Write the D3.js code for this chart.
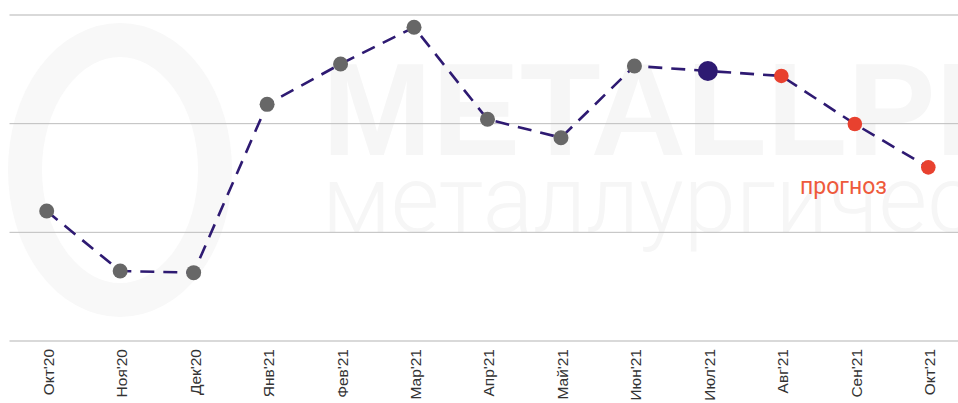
<!DOCTYPE html>
<html><head><meta charset="utf-8">
<script src="https://cdn.jsdelivr.net/npm/d3@7"></script>
<style>
html,body{margin:0;padding:0;background:#fff;}
svg{display:block;}
</style></head>
<body>
<svg id="chart" width="958" height="403"></svg>
<script>
const categories = ["Окт'20","Ноя'20","Дек'20","Янв'21","Фев'21","Мар'21","Апр'21","Май'21","Июн'21","Июл'21","Авг'21","Сен'21","Окт'21"];
const values = [119.6, 64.4, 62.9, 217.8, 254.9, 288.7, 204.0, 187.1, 253.1, 248.5, 243.9, 199.7, 159.8];
const pointKind = ["fact","fact","fact","fact","fact","fact","fact","fact","fact","current","forecast","forecast","forecast"];
const gridTicks = [0, 100, 200, 300];
const forecastLabel = "прогноз";
const watermark1 = "METALLPLAN";
const watermark2 = "металлургический";

const svg = d3.select("#chart");
const W = 958, H = 403;
const x = d3.scalePoint().domain(categories).range([46.7, 928.3]);
const y = d3.scaleLinear().domain([0, 300]).range([341, 15]);

// watermark (very faint), clipped to the picture
svg.append("defs").append("clipPath").attr("id","clipAll")
  .append("rect").attr("x",0).attr("y",0).attr("width",W).attr("height",H);
const wm = svg.append("g").attr("class","watermark").attr("clip-path","url(#clipAll)");
wm.append("ellipse").attr("cx",120).attr("cy",170).attr("rx",95).attr("ry",130)
  .attr("fill","none").attr("stroke","#f8f8f8").attr("stroke-width",34);
wm.append("text").attr("x",322).attr("y",155)
  .attr("font-family","Liberation Sans, Arial, sans-serif").attr("font-weight","bold")
  .attr("font-size",132).attr("fill","#f6f6f6").text(watermark1);
wm.append("text").attr("x",322).attr("y",232)
  .attr("font-family","Roboto, sans-serif").attr("font-weight","300")
  .attr("font-size",94).attr("fill","#f6f6f6").text(watermark2);

// gridlines
const grid = svg.append("g");
grid.selectAll("line").data(gridTicks).join("line")
  .attr("x1", 9.5).attr("x2", W)
  .attr("y1", d => y(d)).attr("y2", d => y(d))
  .attr("stroke", d => (d === 0 || d === 300) ? "#cccccc" : "#bdbdbd")
  .attr("stroke-width", d => (d === 0 || d === 300) ? 1.6 : 1);

// x axis labels
const xAxis = d3.axisBottom(x).tickSize(0).tickPadding(0);
const gx = svg.append("g").attr("transform", `translate(0,${y(0)})`).call(xAxis);
gx.select(".domain").remove();
gx.selectAll(".tick text")
  .attr("font-family","Liberation Sans, Arial, sans-serif")
  .attr("font-size",15.5).attr("fill","#333")
  .attr("text-anchor","end")
  .attr("transform","rotate(-90)")
  .attr("x",-8).attr("y",1).attr("dy","0.35em");

// line
const line = d3.line().x((d,i) => x(categories[i])).y(d => y(d));
svg.append("path").datum(values)
  .attr("d", line).attr("fill","none")
  .attr("stroke","#2e1a72").attr("stroke-width",2.6)
  .attr("stroke-dasharray","14,9");

// points
const color = {fact:"#676767", current:"#2e1a72", forecast:"#e8412f"};
const radius = {fact:7.5, current:10, forecast:7.3};
svg.append("g").selectAll("circle").data(values).join("circle")
  .attr("cx",(d,i) => x(categories[i])).attr("cy", d => y(d))
  .attr("r",(d,i) => radius[pointKind[i]])
  .attr("fill",(d,i) => color[pointKind[i]]);

// forecast label
svg.append("text").attr("x",800).attr("y",194)
  .attr("font-family","Roboto, sans-serif").attr("font-size",23)
  .attr("fill","#ee5a3c").text(forecastLabel);
</script>
</body></html>
